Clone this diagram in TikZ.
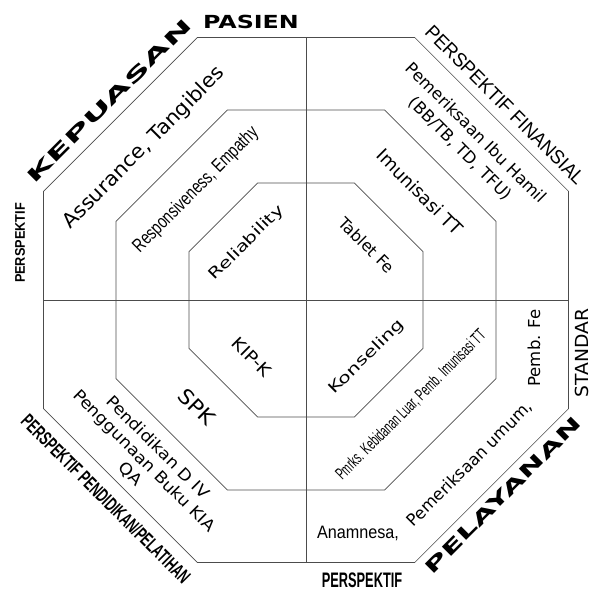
\documentclass[tikz,border=0pt]{standalone}
\usepackage{fontspec}
\usepackage{graphicx}
\setmainfont{DejaVu Sans}
\newfontfamily\narrowfont{Liberation Sans}
\usetikzlibrary{shapes.geometric}

\newcommand{\hstretch}[2]{\scalebox{#1}[1]{#2}}
\newcommand{\setfs}[2]{\fontsize{#1}{#2}\selectfont}

\tikzset{
  octagon/.style={regular polygon, regular polygon sides=8, draw=black!70, line width=0.7pt, inner sep=0pt},
  lbl/.style={inner sep=0pt, align=center},
}

\begin{document}
\begin{tikzpicture}[x=1pt, y=1pt]
\useasboundingbox (0,0) rectangle (590,-589);
\node[octagon, minimum size=568.3] (outer) at (306,-300) {};
\node[octagon, minimum size=411.3] (middle) at (306,-300) {};
\node[octagon, minimum size=253.3] (inner) at (306,-300) {};
\draw[black!70, line width=0.7pt] (outer.90) -- (outer.270);
\draw[black!70, line width=0.7pt] (outer.180) -- (outer.0);

\node[lbl, font={\setfs{18}{22}\bfseries}] (pasien) at (251,-22) {\hstretch{1.32}{PASIEN}};
\node[lbl, rotate=45, font={\setfs{18}{22}\bfseries}] (kepuasan) at (109,-101) {\hstretch{2.05}{KEPUASAN}};
\node[lbl, rotate=90, font={\setfs{14}{17}\narrowfont\bfseries}] (perspleft) at (20,-243) {\hstretch{0.91}{PERSPEKTIF}};
\node[lbl, rotate=-45, font={\setfs{19.5}{23}\narrowfont}] (finansial) at (505,-105) {\hstretch{0.95}{PERSPEKTIF FINANSIAL}};
\node[lbl, rotate=90, font={\setfs{18}{22}}] (standar) at (582,-353) {\hstretch{1.04}{STANDAR}};
\node[lbl, rotate=45, font={\setfs{18}{22}\bfseries}] (pelayanan) at (503,-495) {\hstretch{1.8}{PELAYANAN}};
\node[lbl, font={\setfs{21}{25}\narrowfont\bfseries}] (perspbottom) at (362,-580) {\hstretch{0.61}{PERSPEKTIF}};
\node[lbl, rotate=-45, font={\setfs{19.5}{23}\narrowfont\bfseries}] (pelatihan) at (106,-499) {\hstretch{0.63}{PERSPEKTIF PENDIDIKAN/PELATIHAN}};

\node[lbl, rotate=45, font={\setfs{20}{24}}] (assurance) at (144,-148) {\hstretch{1.05}{Assurance, Tangibles}};
\node[lbl, rotate=45, font={\setfs{19}{23}\narrowfont}] (empathy) at (196,-190) {\hstretch{0.75}{Responsiveness, Empathy}};
\node[lbl, rotate=-45, font={\setfs{16.5}{22}}] (ibuhamil) at (468,-141) {Pemeriksaan Ibu Hamil\\(BB/TB, TD, TFU)};
\node[lbl, rotate=-45, font={\setfs{18}{22}}] (imunisasi) at (420,-192) {Imunisasi TT};
\node[lbl, rotate=-45, font={\setfs{16}{19}}] (diklat) at (144,-461) {\hstretch{1.1}{Pendidikan D IV}\\\hstretch{1.1}{Penggunaan Buku KIA}\\\hstretch{1.1}{QA}};
\node[lbl, font={\setfs{18}{22}\narrowfont}] (anamnesa) at (358,-533) {\hstretch{0.9}{Anamnesa,}};
\node[lbl, rotate=45, font={\setfs{16.5}{20}}] (umum) at (470,-464) {Pemeriksaan umum,};
\node[lbl, rotate=90, font={\setfs{16.5}{20}}] (pembfe) at (534,-348) {Pemb. Fe};
\node[lbl, rotate=45, font={\setfs{17}{20}\narrowfont}] (kebidanan) at (411,-405) {\hstretch{0.6}{Pmrks. Kebidanan Luar, Pemb. Imunisasi TT}};

\node[lbl, rotate=45, font={\setfs{15}{18}}] (reliability) at (247,-243) {\hstretch{1.35}{Reliability}};
\node[lbl, rotate=-45, font={\setfs{16}{19}}] (tablet) at (367,-245) {Tablet Fe};
\node[lbl, rotate=-45, font={\setfs{17}{20}}] (kipk) at (252,-357) {\hstretch{1.1}{KIP-K}};
\node[lbl, rotate=45, font={\setfs{15}{18}}] (konseling) at (367,-357) {\hstretch{1.37}{Konseling}};
\node[lbl, rotate=-45, font={\setfs{20.5}{24}}] (spk) at (197,-407) {\hstretch{1.08}{SPK}};
\end{tikzpicture}
\end{document}
